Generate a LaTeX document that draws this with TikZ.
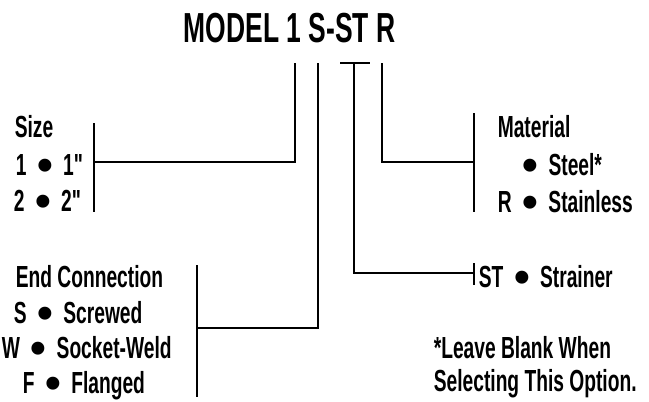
\documentclass[tikz,border=0pt]{standalone}
\usepackage{fontspec}
\setmainfont{Liberation Sans}[FakeStretch=0.63,Ligatures=TeXOff]
\newfontfamily\bulletfont{Liberation Sans}
\newcommand{\bul}{\hspace{11pt}{\bulletfont\fontsize{45}{45}\selectfont\smash{\raisebox{-5pt}{•}}}\hspace{10pt}}

\begin{document}
\begin{tikzpicture}[x=1pt,y=-1pt,line width=1.6pt,
    opttext/.style={anchor=base west,inner sep=0pt,font=\bfseries\fontsize{30.5}{36}\selectfont},
    modeltitle/.style={anchor=base west,inner sep=0pt,font=\bfseries\fontsize{42}{48}\selectfont}]
    \useasboundingbox (0,0) rectangle (649,402);

    \node[modeltitle] (model) at (183,42) {MODEL 1 S-ST\,R};
    \coordinate (s1) at (295,63);
    \coordinate (s2) at (318,63);
    \coordinate (s3) at (354,63);
    \coordinate (s4) at (382,63);

    % size
    \node[opttext] (size) at (14,137) {Size};
    \node[opttext] (size1) at (15,175) {1\bul 1"};
    \node[opttext] (size2) at (13,211) {2\bul 2"};
    \coordinate (sizetop) at (94,123);
    \coordinate (sizebot) at (94,212);
    \draw (sizetop) -- (sizebot);
    \draw (s1) |- (94,162);

    % end connection
    \node[opttext] (conn) at (15,287) {End Connection};
    \node[opttext] (connS) at (13,323) {S\bul Screwed};
    \node[opttext] (connW) at (1,358) {W\bul Socket-Weld};
    \node[opttext] (connF) at (22,393) {F\bul Flanged};
    \coordinate (conntop) at (197,265);
    \coordinate (connbot) at (197,397);
    \draw (conntop) -- (connbot);
    \draw (s2) |- (197,328);

    % strainer
    \node[opttext] (strainer) at (478,287) {ST\bul Strainer};
    \coordinate (sttop) at (474,263);
    \coordinate (stbot) at (474,285);
    \draw (340,63) -- (370,63);
    \draw (sttop) -- (stbot);
    \draw (s3) |- (474,273);

    % material
    \node[opttext] (material) at (497,137) {Material};
    \node[opttext] (steel) at (522,175) {\hspace{-11pt}\bul Steel*};
    \node[opttext] (stainless) at (497,212) {R\bul Stainless};
    \coordinate (mattop) at (474,113);
    \coordinate (matbot) at (474,212);
    \draw (mattop) -- (matbot);
    \draw (s4) |- (474,162);

    \node[opttext] (foot1) at (433,358) {*Leave Blank When};
    \node[opttext] (foot2) at (433,391) {Selecting This Option.};
  \end{tikzpicture}
\end{document}
